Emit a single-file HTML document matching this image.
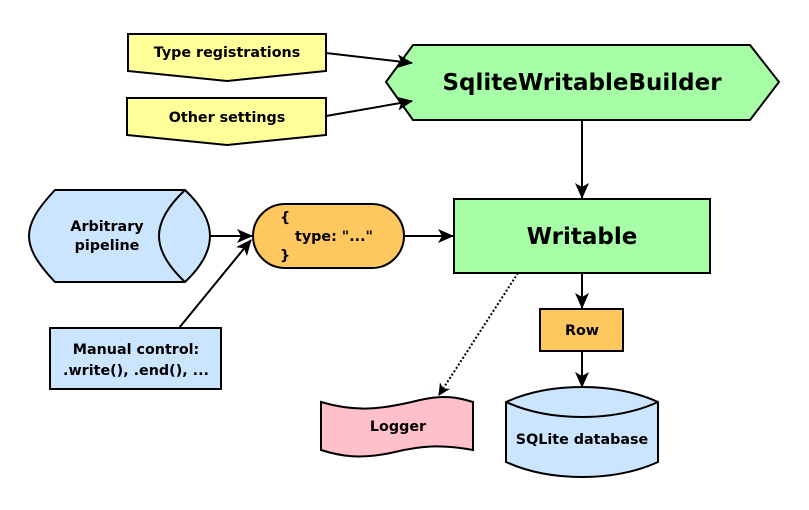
<!DOCTYPE html>
<html><head><meta charset="utf-8"><style>
html,body{margin:0;padding:0;background:#fff;}
svg{display:block;}
text{font-family:"DejaVu Sans","Liberation Sans",sans-serif;font-weight:bold;fill:#000;}
</style></head><body>
<svg width="809" height="510" viewBox="0 0 809 510" xmlns="http://www.w3.org/2000/svg">
<defs>
<marker id="a" markerWidth="12" markerHeight="12" refX="11" refY="6" orient="auto" markerUnits="userSpaceOnUse">
<path d="M0,0 L12,6 L0,12 L3,6 Z" fill="#000"/>
</marker>
<marker id="b" markerWidth="16" markerHeight="14" refX="15" refY="7" orient="auto" markerUnits="userSpaceOnUse">
<path d="M0,0 L16,7 L0,14 L4,7 Z" fill="#000"/>
</marker>
</defs>
<g stroke="#000" stroke-width="2">
<path d="M128,34 L326,34 L326,71 L227,81 L128,71 Z" fill="#ffff99"/>
<path d="M127,98 L326,98 L326,135 L227,145 L127,135 Z" fill="#ffff99"/>
<path d="M386,82 L413,45 L750,45 L779,82 L750,120 L413,120 Z" fill="#a6ffa6"/>
<line x1="326" y1="53" x2="412" y2="63" marker-end="url(#b)"/>
<line x1="326" y1="116" x2="412" y2="101" marker-end="url(#b)"/>
<line x1="582" y1="120" x2="582" y2="198" marker-end="url(#b)"/>
<rect x="454" y="199" width="256" height="74" fill="#a6ffa6"/>
<path d="M55,190 L185,190 C202,206 210,222 210,236 C210,250 202,266 185,282 L55,282 C38,264 29,250 29,236 C29,222 38,208 55,190 Z" fill="#cce5ff"/>
<path d="M185,190 C168,206 159,222 159,236 C159,250 168,266 185,282" fill="none"/>
<line x1="210" y1="236" x2="252" y2="236" marker-end="url(#b)"/>
<rect x="253" y="204" width="151" height="64" rx="32" ry="32" fill="#ffc85e"/>
<line x1="404" y1="236" x2="453" y2="236" marker-end="url(#b)"/>
<rect x="50" y="328" width="171" height="61" fill="#cce5ff"/>
<line x1="179" y1="328" x2="251" y2="240" marker-end="url(#b)"/>
<line x1="518" y1="273" x2="439" y2="395" stroke-dasharray="2,2" marker-end="url(#a)"/>
<line x1="582" y1="273" x2="582" y2="308" marker-end="url(#b)"/>
<rect x="540" y="309" width="83" height="42" fill="#ffc85e"/>
<line x1="582" y1="351" x2="582" y2="387" marker-end="url(#b)"/>
<path d="M321,402 C355,412 380,410 420,400 C445,394 460,398 473,402 L473,450 C440,444 420,446 395,452 C360,460 340,456 321,450 Z" fill="#ffc0cb"/>
<path d="M506,402 C550,382 614,382 658,402 L658,462 C614,482 550,482 506,462 Z" fill="#cce5ff"/>
<path d="M506,402 C550,422 614,422 658,402" fill="none"/>
</g>
<text x="227" y="57" font-size="14.3" text-anchor="middle">Type registrations</text>
<text x="227" y="122" font-size="14.3" text-anchor="middle">Other settings</text>
<text x="582" y="90" font-size="23" text-anchor="middle">SqliteWritableBuilder</text>
<text x="582" y="244" font-size="23" text-anchor="middle">Writable</text>
<text x="107" y="231" font-size="14.3" text-anchor="middle">Arbitrary</text>
<text x="107" y="250" font-size="14.3" text-anchor="middle">pipeline</text>
<text x="280" y="222" font-size="14.3">{</text>
<text x="295" y="241" font-size="14.3">type: "..."</text>
<text x="280" y="260" font-size="14.3">}</text>
<text x="136" y="354" font-size="14.3" text-anchor="middle">Manual control:</text>
<text x="136" y="375" font-size="14.3" text-anchor="middle">.write(), .end(), ...</text>
<text x="582" y="335" font-size="14.3" text-anchor="middle">Row</text>
<text x="398" y="431" font-size="14.3" text-anchor="middle">Logger</text>
<text x="582" y="444" font-size="14.3" text-anchor="middle">SQLite database</text>
</svg>
</body></html>
